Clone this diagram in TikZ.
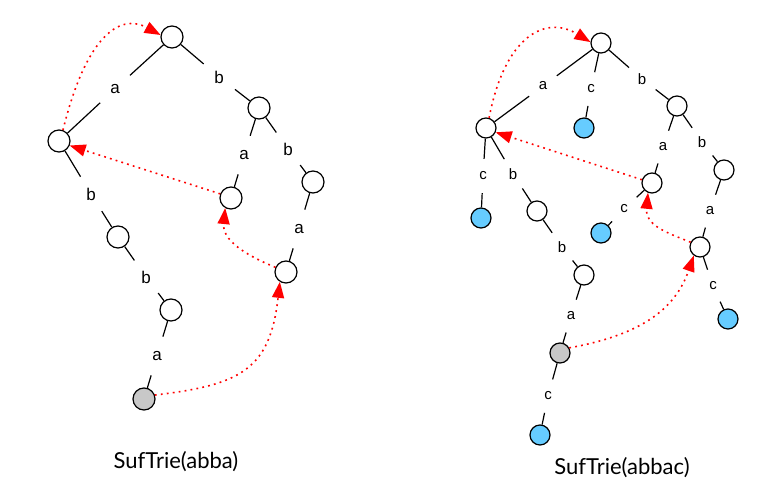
\documentclass[tikz,border=0pt]{standalone}
\usepackage{fontspec}
\setmainfont{Liberation Sans}
\newfontfamily\titlefont{Lato}
\usetikzlibrary{arrows.meta}
\definecolor{leafblue}{RGB}{102,204,255}
\definecolor{grayfill}{RGB}{200,200,200}
\tikzset{
  tn/.style={circle,draw=black,line width=1.2pt,fill=white,inner sep=0pt,minimum size=22pt},
  tns/.style={tn,minimum size=20pt},
  leaf/.style={tns,fill=leafblue},
  endn/.style={tn,fill=grayfill},
  endns/.style={tns,fill=grayfill},
  lbl/.style={circle,inner sep=0pt,minimum size=40pt,font=\fontsize{17pt}{17pt}\selectfont},
  lbls/.style={circle,inner sep=0pt,minimum size=34pt,font=\fontsize{15pt}{15pt}\selectfont},
  edge/.style={line width=1.2pt,black},
  slink/.style={red,line width=1.6pt,dash pattern=on 1.8pt off 4.2pt,-{Triangle[length=16pt,width=12pt]}},
  ttl/.style={font=\titlefont\fontsize{22pt}{22pt}\selectfont}
}
\begin{document}
\begin{tikzpicture}[x=1pt,y=-1pt]
\useasboundingbox (0,0) rectangle (763,503);
% ---------- left tree ----------
\node[tn] (R) at (172,37) {};
\node[tn] (A) at (59,141) {};
\node[tn] (B) at (259,108) {};
\node[tn] (BA) at (231,198) {};
\node[tn] (BB) at (313,182) {};
\node[tn] (AB) at (118,237) {};
\node[tn] (BBA) at (286,272) {};
\node[tn] (ABB) at (171,310) {};
\node[endn] (ABBA) at (144,399) {};
\node[lbl] (l1) at (115,89) {a};
\node[lbl] (l2) at (219,77) {b};
\node[lbl] (l3) at (244,155) {a};
\node[lbl] (l4) at (288,149) {b};
\node[lbl] (l5) at (299,229) {a};
\node[lbl] (l6) at (91,194) {b};
\node[lbl] (l7) at (146,277) {b};
\node[lbl] (l8) at (157,356) {a};
\draw[edge] (R) -- (l1); \draw[edge] (l1) -- (A);
\draw[edge] (R) -- (l2); \draw[edge] (l2) -- (B);
\draw[edge] (B) -- (l3); \draw[edge] (l3) -- (BA);
\draw[edge] (B) -- (l4); \draw[edge] (l4) -- (BB);
\draw[edge] (BB) -- (l5); \draw[edge] (l5) -- (BBA);
\draw[edge] (A) -- (l6); \draw[edge] (l6) -- (AB);
\draw[edge] (AB) -- (l7); \draw[edge] (l7) -- (ABB);
\draw[edge] (ABB) -- (l8); \draw[edge] (l8) -- (ABBA);
\draw[slink] (A.70) .. controls (85,40) and (118,12) .. (R.170);
\draw[slink] (BA.159) -- (A.-23);
\draw[slink] (BBA.156) .. controls (245,255) and (222,240) .. (BA.-120);
\draw[slink] (ABBA.20) .. controls (240,385) and (270,370) .. (BBA.-122);
\node[ttl] (t1) at (176,462) {SufTrie(abba)};
% ---------- right tree ----------
\node[tns] (R2) at (601,43) {};
\node[tns] (A2) at (486,128) {};
\node[leaf] (C2) at (584,128) {};
\node[tns] (B2) at (677,106) {};
\node[leaf] (AC2) at (481,218) {};
\node[tns] (AB2) at (537,211) {};
\node[tns] (BA2) at (652,183) {};
\node[tns] (BB2) at (724,170) {};
\node[leaf] (BAC2) at (601,233) {};
\node[tns] (BBA2) at (700,247) {};
\node[leaf] (BBAC2) at (728,319) {};
\node[tns] (ABB2) at (584,275) {};
\node[endns] (ABBA2) at (560,353) {};
\node[leaf] (ABBAC2) at (540,435) {};
\node[lbls] (m1) at (543,86) {a};
\node[lbls] (m2) at (591,89) {c};
\node[lbls] (m3) at (642,79) {b};
\node[lbls] (m4) at (483,176) {c};
\node[lbls] (m5) at (513,174) {b};
\node[lbls] (m6) at (663,147) {a};
\node[lbls] (m7) at (702,142) {b};
\node[lbls] (m8) at (624,209) {c};
\node[lbls] (m9) at (710,211) {a};
\node[lbls] (m10) at (562,247) {b};
\node[lbls] (m11) at (713,286) {c};
\node[lbls] (m12) at (571,316) {a};
\node[lbls] (m13) at (548,396) {c};
\draw[edge] (R2) -- (m1); \draw[edge] (m1) -- (A2);
\draw[edge] (R2) -- (m2); \draw[edge] (m2) -- (C2);
\draw[edge] (R2) -- (m3); \draw[edge] (m3) -- (B2);
\draw[edge] (A2) -- (m4); \draw[edge] (m4) -- (AC2);
\draw[edge] (A2) -- (m5); \draw[edge] (m5) -- (AB2);
\draw[edge] (B2) -- (m6); \draw[edge] (m6) -- (BA2);
\draw[edge] (B2) -- (m7); \draw[edge] (m7) -- (BB2);
\draw[edge] (BA2) -- (m8); \draw[edge] (m8) -- (BAC2);
\draw[edge] (BB2) -- (m9); \draw[edge] (m9) -- (BBA2);
\draw[edge] (AB2) -- (m10); \draw[edge] (m10) -- (ABB2);
\draw[edge] (BBA2) -- (m11); \draw[edge] (m11) -- (BBAC2);
\draw[edge] (ABB2) -- (m12); \draw[edge] (m12) -- (ABBA2);
\draw[edge] (ABBA2) -- (m13); \draw[edge] (m13) -- (ABBAC2);
\draw[slink] (A2.73) .. controls (505,35) and (546,15) .. (R2.175);
\draw[slink] (BA2.162) -- (A2.-24);
\draw[slink] (BBA2.153) .. controls (665,232) and (645,225) .. (BA2.-112);
\draw[slink] (ABBA2.29) .. controls (640,335) and (675,310) .. (BBA2.-126);
\node[ttl] (t2) at (622,468) {SufTrie(abbac)};
\end{tikzpicture}
\end{document}
